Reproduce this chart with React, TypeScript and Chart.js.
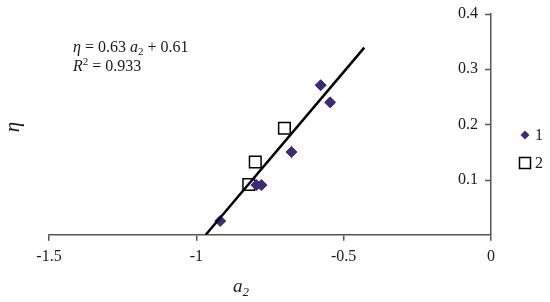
import React, { useEffect, useRef } from 'react';
import { Chart, registerables } from 'chart.js';
Chart.register(...registerables);

const series1X = [-0.578, -0.546, -0.677, -0.796, -0.779, -0.919];
const series1Y = [0.271, 0.24, 0.15, 0.09, 0.09, 0.025];
const series2X = [-0.701, -0.8, -0.822];
const series2Y = [0.193, 0.132, 0.091];
const seriesLabels = ['1', '2'];
const trendSlope = 0.63;
const trendIntercept = 0.61;
const trendRange = [-0.968, -0.43];
const xTicks = [-1.5, -1, -0.5, 0];
const yTicks = [0.1, 0.2, 0.3, 0.4];

const SERIF = '"Liberation Serif", "Times New Roman", serif';
const AXIS_COLOR = '#555555';
const TEXT_COLOR = '#1a1a1a';
const PURPLE = '#3f2a78';

type Run = { text: string; size: number; italic?: boolean; dy?: number };

function drawRuns(ctx: CanvasRenderingContext2D, x: number, y: number, runs: Run[]) {
  let cx = x;
  for (const r of runs) {
    ctx.font = `${r.italic ? 'italic ' : ''}${r.size}px ${SERIF}`;
    ctx.fillText(r.text, cx, y + (r.dy || 0));
    cx += ctx.measureText(r.text).width;
  }
}

const decorPlugin = {
  id: 'decor',
  afterDraw(chart: any) {
    const ctx: CanvasRenderingContext2D = chart.ctx;
    const ys = chart.scales.y;
    const area = chart.chartArea;
    ctx.save();
    // inward y ticks
    ctx.strokeStyle = AXIS_COLOR;
    ctx.lineWidth = 1.5;
    for (const t of ys.ticks) {
      if (t.value === 0) continue;
      const py = Math.round(ys.getPixelForValue(t.value)) + 0.5;
      ctx.beginPath();
      ctx.moveTo(area.right - 6, py);
      ctx.lineTo(area.right, py);
      ctx.stroke();
    }
    ctx.fillStyle = TEXT_COLOR;
    ctx.textBaseline = 'alphabetic';
    ctx.textAlign = 'left';
    // equation
    const ex = area.left + 24;
    const ey = area.top + 38;
    drawRuns(ctx, ex, ey, [
      { text: 'η', size: 16, italic: true },
      { text: ' = 0.63 ', size: 16 },
      { text: 'a', size: 16, italic: true },
      { text: '2', size: 11, dy: 3 },
      { text: ' + 0.61', size: 16 },
    ]);
    drawRuns(ctx, ex, ey + 19, [
      { text: 'R', size: 16, italic: true },
      { text: '2', size: 11, dy: -6 },
      { text: ' = 0.933', size: 16 },
    ]);
    // x title
    drawRuns(ctx, 233, 292, [
      { text: 'a', size: 19, italic: true },
      { text: '2', size: 13, italic: true, dy: 4 },
    ]);
    // y title
    ctx.save();
    ctx.translate(19, 127);
    ctx.rotate(-Math.PI / 2);
    ctx.textAlign = 'center';
    ctx.font = `italic 21px ${SERIF}`;
    ctx.fillText('η', 0, 0);
    ctx.restore();
    // legend
    const ds = chart.data.datasets.filter((d: any) => d.showInLegend);
    ds.forEach((d: any, i: number) => {
      const cy = 135 + i * 28;
      const mx = 525;
      ctx.beginPath();
      if (d.pointStyle === 'rectRot') {
        const r = 4.5;
        ctx.moveTo(mx, cy - r);
        ctx.lineTo(mx + r, cy);
        ctx.lineTo(mx, cy + r);
        ctx.lineTo(mx - r, cy);
        ctx.closePath();
        ctx.fillStyle = d.backgroundColor;
        ctx.fill();
      } else {
        const s = 5.5;
        ctx.rect(mx - s, cy - s, 2 * s, 2 * s);
        ctx.strokeStyle = d.borderColor;
        ctx.lineWidth = d.borderWidth;
        ctx.stroke();
      }
      ctx.fillStyle = TEXT_COLOR;
      ctx.font = `16px ${SERIF}`;
      ctx.textBaseline = 'middle';
      ctx.fillText(d.label, 535, cy + 1);
    });
    ctx.restore();
  },
};

export default function App() {
  const ref = useRef<HTMLCanvasElement>(null);
  useEffect(() => {
    if (!ref.current) return;
    const trendData = trendRange.map((x) => ({ x, y: trendSlope * x + trendIntercept }));
    const chart = new Chart(ref.current, {
      type: 'scatter',
      data: {
        datasets: [
          {
            type: 'line',
            label: 'trend',
            data: trendData,
            borderColor: '#000000',
            borderWidth: 2.5,
            pointRadius: 0,
            showLine: true,
            fill: false,
            order: 0,
          } as any,
          {
            label: seriesLabels[0],
            data: series1X.map((x, i) => ({ x, y: series1Y[i] })),
            pointStyle: 'rectRot',
            pointRadius: 5.5,
            backgroundColor: PURPLE,
            borderColor: PURPLE,
            borderWidth: 1,
            order: 1,
            showInLegend: true,
          } as any,
          {
            label: seriesLabels[1],
            data: series2X.map((x, i) => ({ x, y: series2Y[i] })),
            pointStyle: 'rect',
            pointRadius: 8.2,
            backgroundColor: 'rgba(0,0,0,0)',
            borderColor: '#000000',
            borderWidth: 1.5,
            order: 2,
            showInLegend: true,
          } as any,
        ],
      },
      options: {
        animation: false,
        responsive: false,
        maintainAspectRatio: false,
        layout: { padding: { left: 49, right: 59, top: 14, bottom: 30 } },
        plugins: { legend: { display: false }, tooltip: { enabled: false } },
        scales: {
          x: {
            type: 'linear',
            min: -1.5,
            max: 0,
            afterBuildTicks: (s: any) => {
              s.ticks = xTicks.map((v) => ({ value: v }));
            },
            ticks: {
              font: { family: SERIF, size: 16 },
              color: TEXT_COLOR,
              padding: 6,
              maxRotation: 0,
              callback: (v: any) => String(v),
            },
            grid: { drawOnChartArea: false, drawTicks: true, tickLength: 6, color: AXIS_COLOR, lineWidth: 1.5 },
            border: { display: true, color: AXIS_COLOR, width: 1.5 },
          },
          y: {
            type: 'linear',
            position: 'right',
            min: 0,
            max: 0.4,
            afterBuildTicks: (s: any) => {
              s.ticks = yTicks.map((v) => ({ value: v }));
            },
            ticks: {
              mirror: true,
              font: { family: SERIF, size: 16 },
              color: TEXT_COLOR,
              padding: -13,
              callback: (v: any) => String(v),
            },
            grid: { display: false, drawTicks: false },
            border: { display: true, color: AXIS_COLOR, width: 1.5 },
          },
        },
      },
      plugins: [decorPlugin],
    });
    return () => chart.destroy();
  }, []);
  return (
    <div style={{ position: 'absolute', left: 0, top: 0, width: 550, height: 302, background: '#fff' }}>
      <canvas ref={ref} width={550} height={302} style={{ width: 550, height: 302 }} />
    </div>
  );
}
